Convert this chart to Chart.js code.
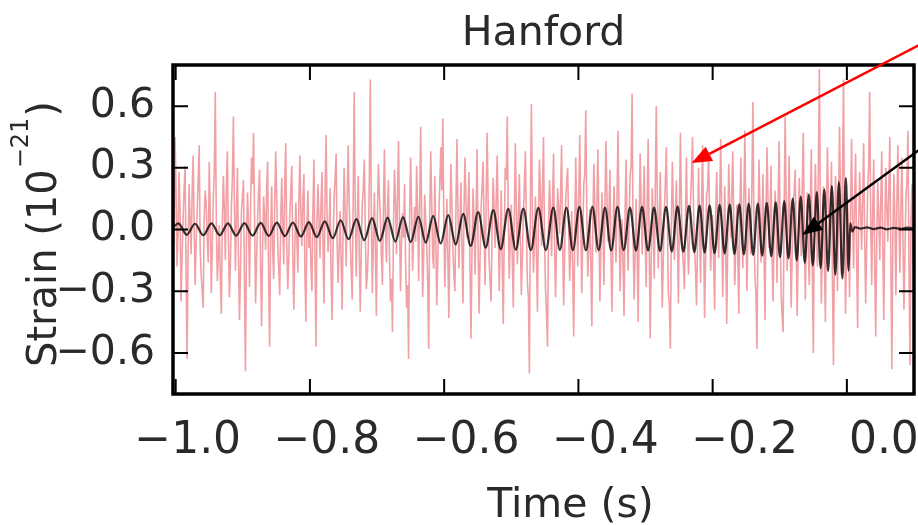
<!DOCTYPE html>
<html>
<head>
<meta charset="utf-8">
<title>Hanford</title>
<script src="https://cdn.jsdelivr.net/npm/chart.js@4.4.1/dist/chart.umd.min.js"></script>
<style>
  html, body { margin: 0; padding: 0; background: #fff; }
  canvas { display: block; }
</style>
</head>
<body>
<canvas id="chart" width="918" height="525"></canvas>
<script>
// tick values
const xTicks = [-1.0, -0.8, -0.6, -0.4, -0.2, 0.0];
const yTicks = [-0.6, -0.3, 0.0, 0.3, 0.6];

const noiseStart = -1.004;
const noiseStep = 0.0015;
const noiseStrain = [
  0.12, -0.08, 0.45, 0.21, -0.18, -0.02, 0.28, 0.1, -0.35, -0.14, 0.05, 0.19, 0.31, -0.2, -0.63, -0.11, 0.22, 0.04, -0.12, 0.17,
  0.36, 0.02, -0.27, -0.06, 0.08, 0.24, 0.41, -0.1, -0.22, -0.3, -0.38, 0.06, 0.19, 0.12, -0.05, -0.16, 0.33, 0.08, -0.31, -0.09,
  0.14, 0.28, 0.67, 0.05, -0.25, -0.13, 0.02, -0.24, -0.41, 0.03, 0.26, 0.1, -0.15, 0.21, 0.38, -0.04, -0.33, -0.18, 0.11, 0.25,
  0.55, 0.13, -0.2, 0.07, 0.3, -0.12, -0.44, -0.21, 0.09, 0.16, 0.24, -0.28, -0.69, -0.05, 0.18, 0.02, -0.28, 0.09, 0.35, 0.22,
  0.47, 0.06, -0.36, -0.15, 0.04, 0.18, 0.29, -0.17, -0.47, -0.09, 0.16, 0.05, -0.1, 0.2, 0.33, -0.25, -0.57, -0.02, 0.21, -0.1,
  -0.24, 0.12, 0.38, 0.15, -0.06, -0.19, -0.32, 0.04, 0.25, 0.02, -0.17, 0.23, 0.42, -0.07, -0.29, -0.14, 0.07, 0.19, 0.31, -0.12,
  -0.39, -0.1, 0.13, -0.04, -0.21, 0.11, 0.36, 0.08, -0.08, 0.14, 0.27, -0.2, -0.45, 0.01, 0.19, -0.09, 0.03, -0.18, -0.3, 0.1,
  0.34, -0.12, -0.57, 0.03, 0.22, 0.05, -0.14, 0.12, 0.28, -0.08, -0.36, 0.16, 0.46, 0.09, -0.11, -0.02, 0.2, -0.22, -0.44, -0.07,
  0.15, 0.25, 0.37, -0.06, -0.26, -0.1, 0.09, -0.15, -0.39, 0.02, 0.3, 0.07, -0.18, 0.14, 0.41, 0.13, -0.05, -0.2, -0.34, 0.16,
  0.67, 0.1, -0.23, 0.04, 0.26, -0.11, -0.4, -0.08, 0.12, 0.2, 0.34, 0.01, -0.29, -0.22, -0.09, 0.24, 0.73, 0.07, -0.31, -0.05,
  0.18, -0.09, -0.42, 0.06, 0.32, 0.17, 0.05, -0.13, -0.27, 0.1, 0.39, 0.03, -0.16, 0.09, 0.24, -0.12, -0.35, -0.24, -0.5, 0.02,
  0.29, 0.14, -0.12, 0.16, 0.43, 0.02, -0.3, -0.06, 0.08, -0.04, 0.22, -0.15, -0.38, -0.27, -0.63, 0.05, 0.35, 0.11, -0.2, -0.03,
  0.11, -0.06, 0.31, 0.09, -0.25, 0.12, 0.5, 0.06, -0.33, -0.12, 0.17, 0.04, -0.07, -0.26, -0.58, 0.08, 0.38, 0.12, -0.14, -0.19,
  0.26, -0.02, -0.37, -0.15, 0.06, 0.22, 0.4, 0.19, 0.54, 0.05, -0.28, -0.07, 0.15, -0.13, -0.43, 0.01, 0.32, 0.13, -0.1, -0.22,
  -0.3, 0.09, 0.44, 0.1, -0.19, 0.03, 0.23, -0.09, -0.36, 0.08, 0.35, 0.14, -0.04, 0.11, 0.28, -0.18, -0.53, -0.1, 0.2, 0.06,
  -0.22, 0.07, 0.39, -0.08, -0.41, -0.14, 0.1, 0.21, 0.33, 0.02, -0.27, 0.12, 0.47, 0.15, -0.15, -0.26, -0.35, 0.03, 0.25, 0.11,
  -0.09, 0.13, 0.36, 0.04, -0.3, -0.06, 0.19, -0.16, -0.46, -0.03, 0.3, 0.24, 0.55, 0.07, -0.24, -0.05, 0.12, -0.14, -0.38, 0.04,
  0.42, 0.11, -0.17, 0.06, 0.27, -0.04, -0.32, -0.13, 0.07, 0.21, 0.38, 0.02, -0.26, -0.33, -0.7, 0.14, 0.61, 0.08, -0.21, -0.06,
  0.16, -0.12, -0.4, 0.05, 0.34, 0.16, -0.08, 0.2, 0.45, -0.03, -0.29, -0.41, -0.57, 0.02, 0.24, 0.09, -0.13, 0.14, 0.37, -0.1,
  -0.33, -0.07, 0.2, 0.1, -0.02, 0.18, 0.41, -0.06, -0.37, -0.12, 0.14, 0.23, 0.3, 0.01, -0.25, -0.08, 0.09, -0.2, -0.52, -0.04,
  0.35, 0.08, -0.18, 0.15, 0.46, 0.04, -0.31, -0.02, 0.22, 0.27, 0.58, 0.1, -0.23, -0.09, 0.1, -0.16, -0.47, 0.03, 0.32, 0.12,
  -0.11, 0.1, 0.39, 0.06, -0.35, -0.09, 0.18, 0.02, -0.27, 0.12, 0.43, 0.17, -0.06, 0.08, 0.29, -0.14, -0.4, -0.07, 0.21, 0.05,
  -0.16, 0.14, 0.48, 0.09, -0.3, -0.1, 0.05, -0.18, -0.42, 0.07, 0.34, 0.02, -0.2, 0.04, 0.26, 0.31, 0.66, -0.05, -0.34, -0.12,
  0.15, -0.1, -0.45, 0.02, 0.37, 0.13, -0.12, 0.1, 0.31, -0.05, -0.28, 0.16, 0.44, -0.08, -0.53, -0.15, 0.2, 0.04, -0.24, 0.18,
  0.6, 0.15, -0.19, 0.05, 0.28, -0.07, -0.38, -0.14, 0.09, 0.22, 0.4, 0.06, -0.31, -0.36, -0.58, 0.01, 0.33, 0.11, -0.15, 0.07,
  0.24, -0.04, -0.36, 0.09, 0.47, 0.12, -0.1, -0.18, -0.29, 0.06, 0.35, -0.03, -0.22, -0.05, 0.13, 0.27, 0.45, 0.1, -0.08, -0.2,
  -0.37, -0.06, 0.3, 0.03, -0.26, 0.11, 0.41, -0.02, -0.43, -0.14, 0.17, 0.2, 0.36, 0.05, -0.2, -0.04, 0.07, -0.16, -0.39, 0.08,
  0.28, 0.05, -0.14, 0.13, 0.44, 0.07, -0.33, -0.03, 0.21, -0.12, -0.46, -0.06, 0.32, 0.1, -0.04, 0.17, 0.38, 0.04, -0.27, -0.08,
  0.12, -0.13, -0.41, 0.06, 0.35, 0.01, -0.19, 0.14, 0.48, 0.09, -0.3, -0.05, 0.2, -0.02, -0.12, 0.23, 0.62, 0.04, -0.22, -0.31,
  -0.58, -0.06, 0.34, 0.11, -0.16, 0.02, 0.27, -0.1, -0.44, 0.07, 0.4, 0.15, -0.09, 0.06, 0.31, -0.13, -0.35, -0.02, 0.19, 0.05,
  -0.26, 0.12, 0.43, 0.04, -0.31, -0.42, -0.5, 0.08, 0.55, 0.14, -0.2, 0.03, 0.36, -0.06, -0.38, -0.11, 0.14, 0.18, 0.29, -0.07,
  -0.42, -0.09, 0.25, 0.07, -0.13, 0.2, 0.47, 0.06, -0.34, -0.05, 0.18, -0.1, -0.27, 0.12, 0.39, -0.21, -0.6, 0.03, 0.32, 0.09,
  -0.18, 0.3, 0.78, 0.1, -0.36, -0.08, 0.21, -0.14, -0.45, 0.05, 0.4, 0.16, -0.12, 0.08, 0.33, -0.25, -0.66, -0.09, 0.26, 0.12,
  -0.3, 0.07, 0.5, 0.16, -0.22, 0.28, 0.73, 0.02, -0.41, -0.1, 0.15, -0.06, -0.33, 0.11, 0.44, 0.05, -0.19, 0.13, 0.37, -0.12,
  -0.48, 0.02, 0.28, 0.09, -0.1, 0.15, 0.42, -0.04, -0.36, -0.08, 0.2, 0.31, 0.67, 0.06, -0.27, 0.1, 0.34, -0.19, -0.52, -0.03,
  0.23, 0.07, -0.15, 0.14, 0.38, -0.09, -0.44, 0.02, 0.3, 0.11, -0.06, 0.2, 0.45, -0.16, -0.68, -0.04, 0.27, 0.06, -0.32, 0.13,
  0.41, 0.05, -0.21, 0.1, 0.35, -0.03, -0.39, -0.12, 0.16, 0.24, 0.48, -0.15, -0.66, 0.04, 0.22, -0.07, -0.28, 0.09, 0.33, 0.1
];

const chirpTime = [
  -1.004, -0.9960, -0.9836, -0.9712, -0.9589, -0.9466, -0.9344, -0.9221, -0.9099, -0.8976,
  -0.8855, -0.8734, -0.8614, -0.8493, -0.8374, -0.8254, -0.8135, -0.8015, -0.7897, -0.7778,
  -0.7660, -0.7542, -0.7425, -0.7307, -0.7191, -0.7075, -0.6959, -0.6843, -0.6728, -0.6613,
  -0.6499, -0.6384, -0.6274, -0.6164, -0.6052, -0.5940, -0.5828, -0.5716, -0.5605, -0.5493,
  -0.5381, -0.5269, -0.5157, -0.5045, -0.4933, -0.4821, -0.4709, -0.4597, -0.4485, -0.4373,
  -0.4276, -0.4179, -0.4082, -0.3985, -0.3888, -0.3791, -0.3698, -0.3604, -0.3511, -0.3418,
  -0.3325, -0.3231, -0.3142, -0.3052, -0.2963, -0.2873, -0.2784, -0.2694, -0.2608, -0.2522,
  -0.2437, -0.2351, -0.2273, -0.2194, -0.2120, -0.2045, -0.1971, -0.1896, -0.1821, -0.1746,
  -0.1675, -0.1604, -0.1534, -0.1463, -0.1396, -0.1328, -0.1261, -0.1194, -0.1127, -0.1060,
  -0.0997, -0.0933, -0.0870, -0.0806, -0.0747, -0.0687, -0.0627, -0.0567, -0.0508, -0.0448,
  -0.0392, -0.0336, -0.0280, -0.0224, -0.0172, -0.0119, -0.0067, -0.0015, 0.0025, 0.0050,
  0.0080, 0.0120, 0.0200, 0.0300, 0.0400, 0.0500, 0.0600, 0.0700, 0.0800, 0.0900,
  0.1003
];
const chirpStrain = [
  0.010, 0.030, -0.026, 0.028, -0.028, 0.030, -0.028, 0.030, -0.030, 0.031,
  -0.030, 0.032, -0.031, 0.033, -0.032, 0.034, -0.034, 0.036, -0.037, 0.040,
  -0.042, 0.045, -0.047, 0.050, -0.052, 0.055, -0.056, 0.058, -0.059, 0.060,
  -0.061, 0.062, -0.064, 0.066, -0.068, 0.070, -0.073, 0.076, -0.080, 0.085,
  -0.088, 0.094, -0.095, 0.100, -0.098, 0.102, -0.100, 0.105, -0.100, 0.106,
  -0.099, 0.107, -0.100, 0.110, -0.101, 0.110, -0.100, 0.106, -0.102, 0.110,
  -0.100, 0.106, -0.103, 0.110, -0.102, 0.106, -0.104, 0.110, -0.106, 0.112,
  -0.108, 0.115, -0.110, 0.116, -0.112, 0.117, -0.115, 0.120, -0.117, 0.121,
  -0.119, 0.122, -0.121, 0.125, -0.124, 0.126, -0.127, 0.130, -0.130, 0.132,
  -0.134, 0.138, -0.140, 0.150, -0.150, 0.160, -0.162, 0.170, -0.175, 0.182,
  -0.188, 0.195, -0.202, 0.212, -0.220, 0.230, -0.238, 0.250, -0.200, 0.030,
  -0.010, 0.012, 0.004, 0.010, 0.002, 0.009, 0.001, 0.008, 0.003, 0.009,
  0.006
];

// annotation arrows [time, strain]
const redArrowTail = [0.1075, 0.897];
const redArrowTip = [-0.2313, 0.323];
const blackArrowTail = [0.1075, 0.3865];
const blackArrowTip = [-0.0664, -0.027];

const textColor = '#2a2a2a';
const fontFamily = '"DejaVu Sans", Verdana, sans-serif';

const noisePoints = noiseStrain.map((v, i) => ({ x: noiseStart + i * noiseStep, y: v }));
const chirpPoints = chirpTime.map((t, i) => ({ x: t, y: chirpStrain[i] }));

function fmtTick(v) {
    const s = Math.abs(v).toFixed(1);
    return v < -1e-9 ? '\u2212' + s : s;
}

// black frame with inward tick marks on all sides
const frameTicks = {
    id: 'frameTicks',
    afterDatasetsDraw(chart) {
        const { ctx, chartArea: a, scales: { x, y } } = chart;
        ctx.save();
        ctx.strokeStyle = '#000';
        ctx.lineWidth = 2;
        ctx.beginPath();
        xTicks.forEach(v => {
            const px = x.getPixelForValue(v);
            ctx.moveTo(px, a.bottom); ctx.lineTo(px, a.bottom - 15);
            ctx.moveTo(px, a.top); ctx.lineTo(px, a.top + 15);
        });
        yTicks.forEach(v => {
            const py = y.getPixelForValue(v);
            ctx.moveTo(a.left, py); ctx.lineTo(a.left + 15, py);
            ctx.moveTo(a.right, py); ctx.lineTo(a.right - 15, py);
        });
        ctx.stroke();
        ctx.lineWidth = 3.5;
        ctx.strokeRect(a.left, a.top, a.right - a.left, a.bottom - a.top);
        ctx.restore();
    }
};

function drawArrow(ctx, x, y, tail, tip, color) {
    const x0 = x.getPixelForValue(tail[0]), y0 = y.getPixelForValue(tail[1]);
    const x1 = x.getPixelForValue(tip[0]), y1 = y.getPixelForValue(tip[1]);
    const ang = Math.atan2(y1 - y0, x1 - x0);
    const len = 20, half = 8;
    const bx = x1 - len * Math.cos(ang), by = y1 - len * Math.sin(ang);
    ctx.strokeStyle = color;
    ctx.fillStyle = color;
    ctx.lineWidth = 2.5;
    ctx.beginPath();
    ctx.moveTo(x0, y0);
    ctx.lineTo(bx, by);
    ctx.stroke();
    ctx.beginPath();
    ctx.moveTo(x1, y1);
    ctx.lineTo(bx + half * Math.sin(ang), by - half * Math.cos(ang));
    ctx.lineTo(bx - half * Math.sin(ang), by + half * Math.cos(ang));
    ctx.closePath();
    ctx.fill();
}

// title, axis titles, x tick labels and arrows
const labels = {
    id: 'labels',
    afterDraw(chart) {
        const { ctx, chartArea: a, scales: { x, y } } = chart;
        const cx = (a.left + a.right) / 2;
        ctx.save();
        ctx.fillStyle = textColor;

        ctx.font = '41px ' + fontFamily;
        ctx.textAlign = 'center';
        ctx.textBaseline = 'alphabetic';
        ctx.fillText('Hanford', cx, 45);
        ctx.fillText('Time (s)', cx + 27, 517);

        // tick labels sit a little right of their ticks in the original
        ctx.font = '44px ' + fontFamily;
        xTicks.forEach(v => {
            const shift = 12 + (v + 1) * 25;
            ctx.fillText(fmtTick(v), x.getPixelForValue(v) + shift, 453);
        });

        // rotated y title with superscript exponent
        ctx.translate(56, 367);
        ctx.rotate(-Math.PI / 2);
        ctx.textAlign = 'left';
        ctx.font = '40px ' + fontFamily;
        const main = 'Strain (10';
        ctx.fillText(main, 0, 0);
        let w = ctx.measureText(main).width;
        ctx.font = '24px ' + fontFamily;
        ctx.fillText('\u221221', w + 1, -28);
        w += ctx.measureText('\u221221').width + 2;
        ctx.font = '40px ' + fontFamily;
        ctx.fillText(')', w, 0);
        ctx.restore();

        ctx.save();
        drawArrow(ctx, x, y, redArrowTail, redArrowTip, '#ff0000');
        drawArrow(ctx, x, y, blackArrowTail, blackArrowTip, '#000000');
        ctx.restore();
    }
};

new Chart(document.getElementById('chart').getContext('2d'), {
    type: 'line',
    data: {
        datasets: [
            {
                label: 'Template',
                data: chirpPoints,
                borderColor: 'rgba(10, 10, 10, 0.82)',
                borderWidth: 2.2,
                pointRadius: 0,
                cubicInterpolationMode: 'monotone',
                order: 1
            },
            {
                label: 'Hanford strain',
                data: noisePoints,
                borderColor: 'rgba(226, 56, 66, 0.48)',
                borderWidth: 1.6,
                pointRadius: 0,
                tension: 0,
                order: 2
            }
        ]
    },
    options: {
        responsive: false,
        animation: false,
        events: [],
        layout: { padding: { top: 65, right: 4, bottom: 0, left: 0 } },
        plugins: {
            legend: { display: false },
            tooltip: { enabled: false },
            title: { display: false }
        },
        scales: {
            x: {
                type: 'linear',
                min: -1.004,
                max: 0.1,
                grid: { display: false, drawTicks: false },
                border: { display: false },
                ticks: { display: false },
                afterBuildTicks: s => { s.ticks = xTicks.map(v => ({ value: v })); },
                afterFit: s => { s.height = 131; }
            },
            y: {
                type: 'linear',
                min: -0.8,
                max: 0.8,
                grid: { display: false, drawTicks: false },
                border: { display: false },
                ticks: {
                    padding: 18,
                    color: textColor,
                    font: { family: fontFamily, size: 41 },
                    callback: v => fmtTick(v)
                },
                afterBuildTicks: s => { s.ticks = yTicks.map(v => ({ value: v })); },
                afterFit: s => { s.width = 173; }
            }
        }
    },
    plugins: [frameTicks, labels]
});
</script>
</body>
</html>
